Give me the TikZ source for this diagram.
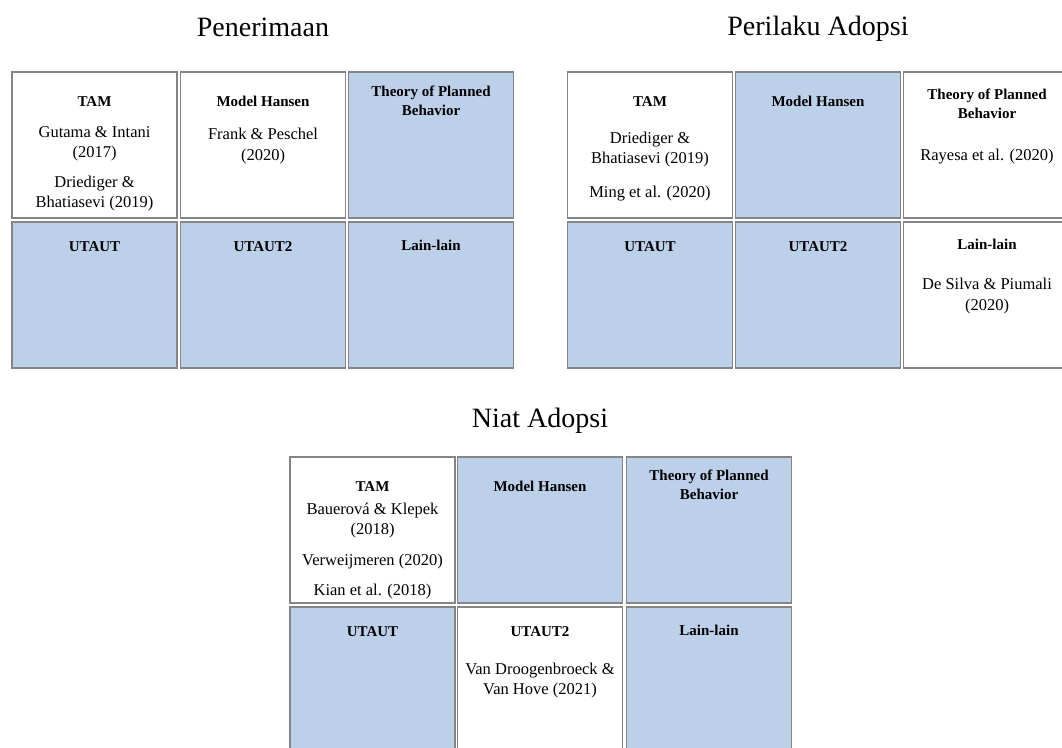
\documentclass[tikz,border=0pt]{standalone}
\usepackage{fontspec}
\setmainfont{Liberation Serif}
\definecolor{cellblue}{HTML}{BDD0E9}
\definecolor{cellgray}{HTML}{858585}
\begin{document}
\begin{tikzpicture}[x=1pt,y=-1pt,
  cellbox/.style={draw=cellgray, line width=1.3pt, minimum width=165pt, minimum height=146pt, inner sep=0pt, outer sep=0pt},
  bluecell/.style={cellbox, fill=cellblue},
  whitecell/.style={cellbox, fill=white},
  hdr/.style={anchor=base, inner sep=0pt, font=\bfseries\fontsize{15}{18}\selectfont},
  body/.style={anchor=base, inner sep=0pt, font=\fontsize{16.5}{20}\selectfont},
  ttl/.style={anchor=base, inner sep=0pt, font=\fontsize{28}{32}\selectfont}]
\useasboundingbox (0,0) rectangle (1062,747);
\clip (0,0) rectangle (1062,747);
\fill[white] (0,0) rectangle (1062,747);

% ---------- Penerimaan ----------
\node[ttl] (t1) at (263,36) {Penerimaan};
\node[whitecell] (a11) at (94.5,145) {};
\node[whitecell] (a12) at (263,145) {};
\node[bluecell]  (a13) at (431,145) {};
\node[bluecell]  (a21) at (94.5,295) {};
\node[bluecell]  (a22) at (263,295) {};
\node[bluecell]  (a23) at (431,295) {};
\node[hdr]  (a11h) at (94.5,106) {TAM};
\node[body] (a11a) at (94.5,137.5) {Gutama \& Intani};
\node[body] (a11b) at (94.5,157.5) {(2017)};
\node[body] (a11c) at (94.5,187.5) {Driediger \&};
\node[body] (a11d) at (94.5,207.5) {Bhatiasevi (2019)};
\node[hdr]  (a12h) at (263,106) {Model Hansen};
\node[body] (a12a) at (263,139.5) {Frank \& Peschel};
\node[body] (a12b) at (263,160) {(2020)};
\node[hdr]  (a13h) at (431,96) {Theory of Planned};
\node[hdr]  (a13i) at (431,115) {Behavior};
\node[hdr]  (a21h) at (94.5,251) {UTAUT};
\node[hdr]  (a22h) at (263,251) {UTAUT2};
\node[hdr]  (a23h) at (431,250) {Lain-lain};

% ---------- Perilaku Adopsi ----------
\node[ttl] (t2) at (818,35) {Perilaku Adopsi};
\node[whitecell] (b11) at (650,145) {};
\node[bluecell]  (b12) at (818,145) {};
\node[whitecell] (b13) at (986,145) {};
\node[bluecell]  (b21) at (650,295) {};
\node[bluecell]  (b22) at (818,295) {};
\node[whitecell] (b23) at (986,295) {};
\node[hdr]  (b11h) at (650,106) {TAM};
\node[body] (b11a) at (650,143.5) {Driediger \&};
\node[body] (b11b) at (650,163.5) {Bhatiasevi (2019)};
\node[body] (b11c) at (650,197.5) {Ming et al. (2020)};
\node[hdr]  (b12h) at (818,106) {Model Hansen};
\node[hdr]  (b13h) at (987,99) {Theory of Planned};
\node[hdr]  (b13i) at (987,118) {Behavior};
\node[body] (b13a) at (987,160.5) {Rayesa et al. (2020)};
\node[hdr]  (b21h) at (650,251) {UTAUT};
\node[hdr]  (b22h) at (818,251) {UTAUT2};
\node[hdr]  (b23h) at (987,249) {Lain-lain};
\node[body] (b23a) at (987,289.5) {De Silva \& Piumali};
\node[body] (b23b) at (987,310) {(2020)};

% ---------- Niat Adopsi ----------
\node[ttl] (t3) at (540,427) {Niat Adopsi};
\node[whitecell] (c11) at (372.5,530) {};
\node[bluecell]  (c12) at (540,530) {};
\node[bluecell]  (c13) at (709,530) {};
\node[bluecell]  (c21) at (372.5,680) {};
\node[whitecell] (c22) at (540,680) {};
\node[bluecell]  (c23) at (709,680) {};
\node[hdr]  (c11h) at (372.5,491) {TAM};
\node[body] (c11a) at (372.5,514.5) {Bauerová \& Klepek};
\node[body] (c11b) at (372.5,534.5) {(2018)};
\node[body] (c11c) at (372.5,565.5) {Verweijmeren (2020)};
\node[body] (c11d) at (372.5,595.5) {Kian et al. (2018)};
\node[hdr]  (c12h) at (540,491) {Model Hansen};
\node[hdr]  (c13h) at (709,480) {Theory of Planned};
\node[hdr]  (c13i) at (709,499) {Behavior};
\node[hdr]  (c21h) at (372.5,636) {UTAUT};
\node[hdr]  (c22h) at (540,636) {UTAUT2};
\node[body] (c22a) at (540,674.5) {Van Droogenbroeck \&};
\node[body] (c22b) at (540,694.5) {Van Hove (2021)};
\node[hdr]  (c23h) at (709,635) {Lain-lain};
\end{tikzpicture}
\end{document}
